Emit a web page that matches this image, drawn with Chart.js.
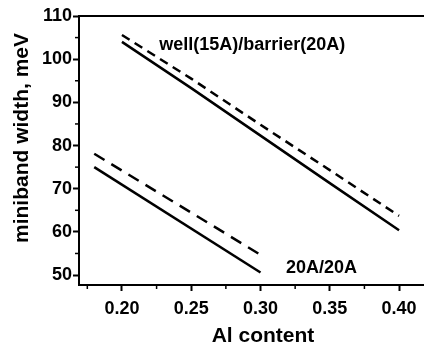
<!DOCTYPE html>
<html>
<head>
<meta charset="utf-8">
<script src="https://cdn.jsdelivr.net/npm/chart.js@4/dist/chart.umd.min.js"></script>
<style>
  html, body { margin: 0; padding: 0; background: #fff; }
  #wrap { width: 424px; height: 349px; }
</style>
</head>
<body>
<div id="wrap"><canvas id="miniband" width="424" height="349"></canvas></div>
<script>
// Al content values and miniband widths (meV)
const wellX = [0.20, 0.25, 0.30, 0.35, 0.40];
const wellSolid = [104.0, 93.3, 82.3, 71.3, 60.4];
const wellDashed = [105.6, 95.5, 84.8, 74.3, 63.7];

const equalX = [0.18, 0.30];
const equalSolid = [75.0, 50.6];
const equalDashed = [78.1, 54.7];

const xTicks = [0.20, 0.25, 0.30, 0.35, 0.40];
const xMinor = [0.175, 0.225, 0.275, 0.325, 0.375];
const yTicks = [50, 60, 70, 80, 90, 100, 110];
const yMinor = [55, 65, 75, 85, 95, 105];

const seriesLabels = ['well(15A)/barrier(20A)', '20A/20A'];
const xTitle = 'Al content';
const yTitle = 'miniband width, meV';

const FONT = '"Liberation Sans", Arial, Helvetica, sans-serif';

const pts = (xs, ys) => xs.map((x, i) => ({ x: x, y: ys[i] }));

const lineStyle = (dash) => ({
    showLine: true,
    borderColor: '#000',
    borderWidth: 2.5,
    borderDash: dash,
    pointRadius: 0,
    fill: false,
    tension: 0
});

// minor ticks, top frame line, titles and in-plot labels
const decorations = {
    id: 'decorations',
    afterDraw(chart) {
        const ctx = chart.ctx;
        const xs = chart.scales.x;
        const ys = chart.scales.y;
        const area = chart.chartArea;
        ctx.save();
        ctx.strokeStyle = '#000';
        ctx.lineWidth = 2;
        ctx.beginPath();
        ctx.moveTo(area.left - 1, area.top);
        ctx.lineTo(area.right, area.top);
        ctx.stroke();

        ctx.lineWidth = 1.5;
        xMinor.forEach(v => {
            const px = xs.getPixelForValue(v);
            ctx.beginPath();
            ctx.moveTo(px, area.bottom);
            ctx.lineTo(px, area.bottom + 4);
            ctx.stroke();
        });
        yMinor.forEach(v => {
            const py = ys.getPixelForValue(v);
            ctx.beginPath();
            ctx.moveTo(area.left, py);
            ctx.lineTo(area.left - 4, py);
            ctx.stroke();
        });

        ctx.fillStyle = '#000';
        ctx.textAlign = 'center';
        ctx.textBaseline = 'middle';
        ctx.font = 'bold 18px ' + FONT;
        ctx.fillText(seriesLabels[0], xs.getPixelForValue(0.294), ys.getPixelForValue(103.3));
        ctx.fillText(seriesLabels[1], xs.getPixelForValue(0.344), ys.getPixelForValue(51.6));

        ctx.font = 'bold 21px ' + FONT;
        ctx.fillText(xTitle, 263, 336);
        ctx.translate(22, 138);
        ctx.rotate(-Math.PI / 2);
        ctx.fillText(yTitle, 0, 0);
        ctx.restore();
    }
};

const axisGrid = {
    display: true,
    drawOnChartArea: false,
    drawTicks: true,
    tickLength: 6,
    tickWidth: 2,
    tickColor: '#000'
};

const chart = new Chart(document.getElementById('miniband'), {
    type: 'scatter',
    data: {
        datasets: [
            Object.assign({ label: 'well solid', data: pts(wellX, wellSolid) }, lineStyle([])),
            Object.assign({ label: 'well dashed', data: pts(wellX, wellDashed) }, lineStyle([9, 6])),
            Object.assign({ label: '20A solid', data: pts(equalX, equalSolid) }, lineStyle([])),
            Object.assign({ label: '20A dashed', data: pts(equalX, equalDashed) }, lineStyle([12, 8]))
        ]
    },
    options: {
        responsive: false,
        animation: false,
        devicePixelRatio: 1,
        layout: { padding: { top: 16, right: 0, left: 0, bottom: 0 } },
        plugins: {
            legend: { display: false },
            tooltip: { enabled: false }
        },
        scales: {
            x: {
                type: 'linear',
                min: 0.169,
                max: 0.418,
                border: { display: true, width: 2, color: '#000' },
                grid: axisGrid,
                afterBuildTicks: (scale) => { scale.ticks = xTicks.map(v => ({ value: v })); },
                afterFit: (scale) => { scale.height = 64; },
                ticks: {
                    color: '#000',
                    padding: 7,
                    maxRotation: 0,
                    autoSkip: false,
                    font: { family: FONT, size: 18, weight: 'bold' },
                    callback: (v) => Number(v).toFixed(2)
                }
            },
            y: {
                type: 'linear',
                min: 47.7,
                max: 110,
                border: { display: true, width: 2, color: '#000' },
                grid: axisGrid,
                afterBuildTicks: (scale) => { scale.ticks = yTicks.map(v => ({ value: v })); },
                afterFit: (scale) => { scale.width = 79; },
                ticks: {
                    color: '#000',
                    padding: 1,
                    autoSkip: false,
                    font: { family: FONT, size: 18, weight: 'bold' },
                    callback: (v) => String(v)
                }
            }
        }
    },
    plugins: [decorations]
});
</script>
</body>
</html>
